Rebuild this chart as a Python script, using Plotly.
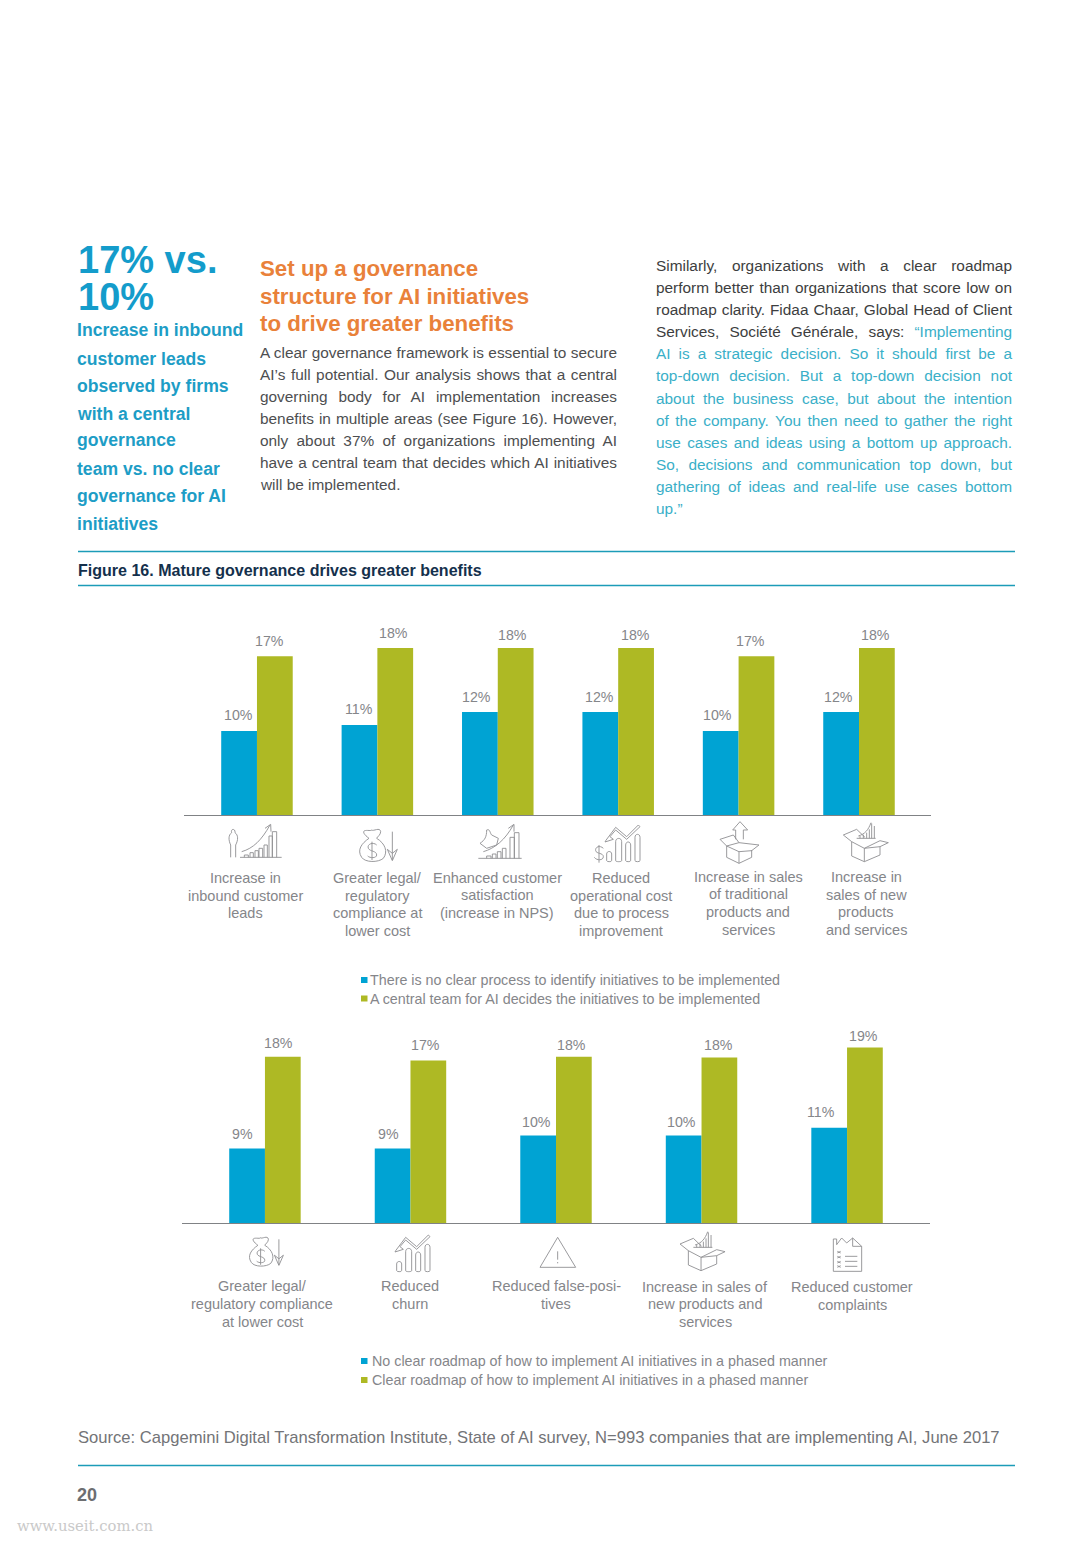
import re
import json
import plotly.graph_objects as go

W, H = 1091, 1543
BLUE = "#00A3D3"
GREEN = "#AEB924"
GREY = "#85868A"
ICON = "#8E8F92"
TEAL = "#1C9CB8"
FONT = "Liberation Sans"

# ---- chart 1 data ----
c1_categories = ["Increase in inbound customer leads", "Greater legal/ regulatory compliance at lower cost",
                 "Enhanced customer satisfaction (increase in NPS)", "Reduced operational cost due to process improvement",
                 "Increase in sales of traditional products and services", "Increase in sales of new products and services"]
c1_no_process = [9.05, 9.7, 11.1, 11.1, 9.05, 11.1]
c1_central = [17.1, 18.0, 18.0, 18.0, 17.1, 18.0]
c1_no_process_labels = ["10%", "11%", "12%", "12%", "10%", "12%"]
c1_central_labels = ["17%", "18%", "18%", "18%", "17%", "18%"]
c1_series = ["There is no clear process to identify initiatives to be implemented",
             "A central team for AI decides the initiatives to be implemented"]

# ---- chart 2 data ----
c2_categories = ["Greater legal/ regulatory compliance at lower cost", "Reduced churn", "Reduced false-positives",
                 "Increase in sales of new products and services", "Reduced customer complaints"]
c2_no_roadmap = [8.06, 8.06, 9.47, 9.47, 10.3]
c2_roadmap = [18.0, 17.6, 18.0, 17.9, 19.0]
c2_no_roadmap_labels = ["9%", "9%", "10%", "10%", "11%"]
c2_roadmap_labels = ["18%", "17%", "18%", "18%", "19%"]
c2_series = ["No clear roadmap of how to implement AI initiatives in a phased manner",
             "Clear roadmap of how to implement AI initiatives in a phased manner"]

# label nudges (px) relative to the bar centre / bar top
c1_blue_nudge = [(-1, 16), (0, 16), (-3, 15), (-1, 15), (-3, 16), (-3, 15)]
c1_green_nudge = [(-5, 15), (-2, 15), (-3, 13), (-1, 13), (-6, 15), (-1, 13)]
c2_blue_nudge = [(-5, 15), (-4, 15), (-2, 14), (-2, 14), (-8, 16)]
c2_green_nudge = [(-4, 14), (-3, 15), (-2, 12), (-1, 13), (-1, 11)]

px_x = lambda x: x / W
px_y = lambda y: 1 - y / H

fig = go.Figure()
annotations, shapes = [], []
justify = {}


def text(x, y, s, size, color, bold=False, anchor="left", font=FONT):
    annotations.append(dict(xref="paper", yref="paper", x=px_x(x), y=px_y(y), text=f"<b>{s}</b>" if bold else s,
                            showarrow=False, xanchor=anchor, yanchor="middle", align=anchor, borderpad=0, borderwidth=0,
                            font=dict(family=font, size=size, color=color)))


def block(x, ys, lines, size, color, bold=False, anchor="left", fit=None):
    for y, s in zip(ys, lines):
        text(x, y, s, size, color, bold, anchor)
        if fit:
            justify[re.sub(r"<[^>]+>", "", s)] = fit


def rule(x0, x1, y, color=TEAL, width=1.5):
    shapes.append(dict(type="line", xref="paper", yref="paper", x0=px_x(x0), x1=px_x(x1), y0=px_y(y), y1=px_y(y),
                       line=dict(color=color, width=width)))


def swatch(x0, x1, y0, y1, color):
    shapes.append(dict(type="rect", xref="paper", yref="paper", x0=px_x(x0), x1=px_x(x1), y0=px_y(y0), y1=px_y(y1),
                       fillcolor=color, line=dict(width=0)))


def icon(ox, oy, paths, scale=1 / 3, width=0.9):
    for p in paths:
        toks = re.findall(r"[A-Za-z]|-?\d+\.?\d*", p)
        out, is_x = [], True
        for t in toks:
            if t.isalpha():
                out.append(t)
            else:
                v = float(t)
                if is_x:
                    out.append(f"{px_x(ox + v * scale):.5f}")
                else:
                    out.append(f"{px_y(oy + v * scale):.5f}")
                is_x = not is_x
        shapes.append(dict(type="path", xref="paper", yref="paper", path=" ".join(out),
                           line=dict(color=ICON, width=width)))


# ---- bars ----
def add_chart(xa, ya, cats, a, b, width, names):
    idx = list(range(len(cats)))
    fig.add_bar(x=idx, y=a, name=names[0], hovertext=cats, width=width, offset=-width, marker=dict(color=BLUE, line_width=0),
                xaxis=xa, yaxis=ya, showlegend=False)
    fig.add_bar(x=idx, y=b, name=names[1], hovertext=cats, width=width, offset=0, marker=dict(color=GREEN, line_width=0),
                xaxis=xa, yaxis=ya, showlegend=False)


def add_labels(xa, ya, vals, labels, nudges, off):
    for i, (v, l, (dx, dy)) in enumerate(zip(vals, labels, nudges)):
        annotations.append(dict(xref=xa, yref=ya, x=i + off, y=v, text=l, showarrow=False, xanchor="center",
                                yanchor="middle", xshift=dx, yshift=dy, borderwidth=0,
                                font=dict(family=FONT, size=14.2, color=GREY)))


add_chart("x", "y", c1_categories, c1_no_process, c1_central, 0.297, c1_series)
add_chart("x2", "y2", c2_categories, c2_no_roadmap, c2_roadmap, 0.2455, c2_series)
add_labels("x", "y", c1_no_process, c1_no_process_labels, c1_blue_nudge, -0.1485)
add_labels("x", "y", c1_central, c1_central_labels, c1_green_nudge, 0.1485)
add_labels("x2", "y2", c2_no_roadmap, c2_no_roadmap_labels, c2_blue_nudge, -0.1228)
add_labels("x2", "y2", c2_roadmap, c2_roadmap_labels, c2_green_nudge, 0.1228)

# ---- page text ----
block(78, [260, 297], ["17% vs.", "10%"], 38, "#149CCB", True)
block(77, [330.5, 358.5, 385.5, 413.5, 440.5, 468.5, 495.5, 523.5],
      ["Increase in inbound", "customer leads", "observed by firms", "with a central", "governance",
       "team vs. no clear", "governance for AI", "initiatives"], 17.6, "#1D9DC6", True)
block(260, [268.5, 296.5, 323.5], ["Set up a governance", "structure for AI initiatives", "to drive greater benefits"],
      22.3, "#E9813A", True)
block(260, [352.5, 374.5, 396.5, 418.5, 440.5, 462.5],
      ["A clear governance framework is essential to secure", "AI’s full potential. Our analysis shows that a central",
       "governing body for AI implementation increases", "benefits in multiple areas (see Figure 16). However,",
       "only about 37% of organizations implementing AI", "have a central team that decides which AI initiatives"],
      15.4, "#4D4E50", fit=357)
text(260, 484.5, "will be implemented.", 15.4, "#4D4E50")
q = "#3AAFC8"
block(656, [266, 288, 310], ["Similarly, organizations with a clear roadmap",
                             "perform better than organizations that score low on",
                             "roadmap clarity. Fidaa Chaar, Global Head of Client"], 15.4, "#3D3E40", fit=356)
block(656, [332], [f'Services, Société Générale, says: <span style="color:{q}">“Implementing</span>'], 15.4, "#3D3E40", fit=356)
block(656, [354, 376, 398, 420, 442, 464, 486],
      ["AI is a strategic decision. So it should first be a", "top-down decision. But a top-down decision not",
       "about the business case, but about the intention", "of the company. You then need to gather the right",
       "use cases and ideas using a bottom up approach.", "So, decisions and communication top down, but",
       "gathering of ideas and real-life use cases bottom"], 15.4, q, fit=356)
text(656, 508, "up.”", 15.4, q)
rule(78, 1015, 551.5)
rule(78, 1015, 585.5)
rule(78, 1015, 1465.5)
text(78, 569.5, "Figure 16. Mature governance drives greater benefits", 16.05, "#14304C", True)
text(78, 1437, "Source: Capgemini Digital Transformation Institute, State of AI survey, N=993 companies that are implementing AI, June 2017",
     16.6, "#737477")
text(77, 1495, "20", 18, "#6D6E71", True)
text(17, 1525, "www.useit.com.cn", 14.8, "#C9C9C9", False, "left", "DejaVu Serif")

# ---- category captions ----
cap = 14.5
for cx, ys, lines in [
    (245, [878, 896, 913], ["Increase in", "inbound customer", "leads"]),
    (377, [878, 896, 913, 931], ["Greater legal/", "regulatory", "compliance at", "lower cost"]),
    (497, [878, 895, 913], ["Enhanced customer", "satisfaction", "(increase in NPS)"]),
    (621, [878, 896, 913, 931], ["Reduced", "operational cost", "due to process", "improvement"]),
    (748, [877, 894, 912, 930], ["Increase in sales", "of traditional", "products and", "services"]),
    (866, [877, 895, 912, 930], ["Increase in", "sales of new", "products", "and services"]),
    (262, [1286, 1304, 1322], ["Greater legal/", "regulatory compliance", "at lower cost"]),
    (410, [1286, 1304], ["Reduced", "churn"]),
    (556, [1286, 1304], ["Reduced false-posi-", "tives"]),
    (705, [1287, 1304, 1322], ["Increase in sales of", "new products and", "services"]),
    (852, [1287, 1305], ["Reduced customer", "complaints"]),
]:
    block(cx, ys, lines, cap, GREY, False, "center")

# ---- legends ----
for y, s, c in [(980, c1_series[0], BLUE), (998.5, c1_series[1], GREEN)]:
    swatch(361, 367.5, y - 3, y + 3, c)
    text(370, y, s, 14.3, GREY)
for y, s, c in [(1361, c2_series[0], BLUE), (1380, c2_series[1], GREEN)]:
    swatch(361, 367.5, y - 3, y + 3, c)
    text(372, y, s, 14.3, GREY)
rule_color = "#808285"

# ---- icons (drawn in a 3x local grid) ----
icon(215, 820, [
    "M47 112 L47 75 C40 60 40 45 50 38 C46 25 62 25 60 38 C70 45 70 60 62 75 L62 112",
    "M75 112 L200 112",
    "M88 112 L88 105 L100 105 L100 112", "M105 112 L105 98 L115 98 L115 112", "M120 112 L120 92 L130 92 L130 112",
    "M132 112 L132 85 L143 85 L143 112", "M147 112 L147 75 L157 75 L157 112", "M162 112 L162 48 L172 48 L172 112",
    "M172 112 L172 35 L185 35 L185 112",
    "M80 95 C115 85 140 60 165 15", "M150 25 L167 13 L168 35",
])
icon(215, 820, [
    "M790 115 L920 115",
    "M815 115 L815 108 L828 108 L828 115", "M832 115 L832 102 L843 102 L843 115", "M847 115 L847 95 L858 95 L858 115",
    "M862 115 L862 85 L873 85 L873 115", "M885 115 L885 52 L898 52 L898 115", "M898 115 L898 38 L912 38 L912 115",
    "M805 95 C840 85 870 60 895 15", "M880 25 L897 13 L897 35",
    "M795 70 C810 60 815 50 815 30 C825 25 825 40 830 45 L850 55 L845 75 L815 85 Z",
])
bag = [
    "M447 40 C440 25 470 35 470 30 C475 35 495 20 497 35 C497 45 487 50 485 55 C510 70 520 95 505 115 C490 128 450 128 440 112 C425 90 440 70 462 55 C455 50 450 45 447 40 Z",
    "M485 75 C475 65 455 72 460 85 C465 95 485 92 485 105 C485 115 465 115 458 108", "M471 65 L471 120",
    "M532 35 L532 120", "M517 88 L532 122 L547 88 L532 100 Z",
]
icon(215, 820, bag)
icon(119.3, 1228.8, bag, 0.3)
pills = [
    "M65 122 L65 102 C65 92 80 92 80 102 L80 122 C80 126 65 126 65 122 Z",
    "M92 122 L92 65 C92 52 110 52 110 65 L110 122 C110 126 92 126 92 122 Z",
    "M122 122 L122 75 C122 63 137 63 137 75 L137 122 C137 126 122 126 122 122 Z",
    "M150 122 L150 52 C150 40 165 40 165 52 L165 122 C165 126 150 126 150 122 Z",
    "M62 62 L92 22 L125 50 L160 15 L165 20 L125 58 L92 30 L75 50 L85 58 L60 66 Z",
]
icon(585, 820, pills + ["M55 85 C45 75 30 80 32 92 C34 102 55 98 55 110 C55 122 35 122 28 112", "M42 75 L42 128"])
icon(375, 1230, pills)
icon(585, 820, [
    "M425 78 L425 112 L462 130 L500 112 L500 90", "M462 130 L462 95",
    "M405 58 L445 45 L462 68 L425 78 Z", "M462 95 L425 78", "M462 68 L522 75 L500 92 L462 95",
    "M452 58 L452 30 L443 30 L465 5 L488 30 L475 30 L475 58",
])
box_chart = [
    "M800 65 L800 108 L838 125 L885 105 L885 80", "M838 125 L838 85",
    "M800 65 L775 45 L815 28 L840 52", "M838 85 L800 65", "M838 85 L885 62 L910 68 L885 80 L838 85",
    "M815 55 L872 55", "M825 55 L825 48", "M835 55 L835 44", "M845 55 L845 38", "M853 55 L853 28", "M860 55 L860 10", "M868 55 L868 18",
    "M820 48 C840 42 850 30 858 8",
]
icon(585, 820, box_chart)
icon(421.7, 1229, box_chart)
icon(235, 1228, ["M915 118 L968 28 L1022 118 Z", "M968 70 L968 95", "M968 102 L968 106"])
icon(670, 1228, [
    "M490 33 L490 130 L575 130 L575 55 L548 30 L530 45 L515 30 L500 50 L500 33 Z", "M548 30 L548 55 L575 55",
    "M502 70 L512 75", "M512 70 L502 75", "M502 85 L512 90", "M512 85 L502 90", "M502 100 L512 105", "M512 100 L502 105",
    "M502 113 L512 118", "M512 113 L502 118", "M525 85 L562 85", "M525 100 L562 100", "M525 115 L562 115",
])


def axis_common():
    return dict(showgrid=False, zeroline=False, showticklabels=False, ticks="", fixedrange=True)


fig.update_layout(
    width=W, height=H, margin=dict(l=0, r=0, t=0, b=0, pad=0), paper_bgcolor="white", plot_bgcolor="white",
    barmode="overlay", showlegend=False, annotations=annotations, shapes=shapes,
    font=dict(family=FONT),
    xaxis=dict(**axis_common(), domain=[184 / W, 931 / W], range=[-0.606, 5.598], showline=True, linecolor=rule_color,
               linewidth=1, anchor="y"),
    yaxis=dict(**axis_common(), domain=[px_y(815), px_y(620)], range=[0, 195 / 9.28], anchor="x"),
    xaxis2=dict(**axis_common(), domain=[182 / W, 930 / W], range=[-0.570, 4.570], showline=True, linecolor=rule_color,
                linewidth=1, anchor="y2"),
    yaxis2=dict(**axis_common(), domain=[px_y(1223), px_y(1030)], range=[0, 193 / 9.24], anchor="x2"),
)

# justified body text: the page is justified, so each full line is spaced out to the column width
post = """
document.body.style.margin='0';
document.documentElement.style.overflow='hidden';
var fits = %s;
document.querySelectorAll('text.annotation-text').forEach(function (t) {
  var f = fits[t.textContent];
  if (!f) return;
  var n = (t.textContent.match(/ /g) || []).length;
  if (!n) return;
  var extra = (f - t.getComputedTextLength()) / n;
  t.style.wordSpacing = extra.toFixed(3) + 'px';
});
""" % json.dumps(justify, ensure_ascii=False)

fig.write_html("out.html", config={"displayModeBar": False}, post_script=post)
